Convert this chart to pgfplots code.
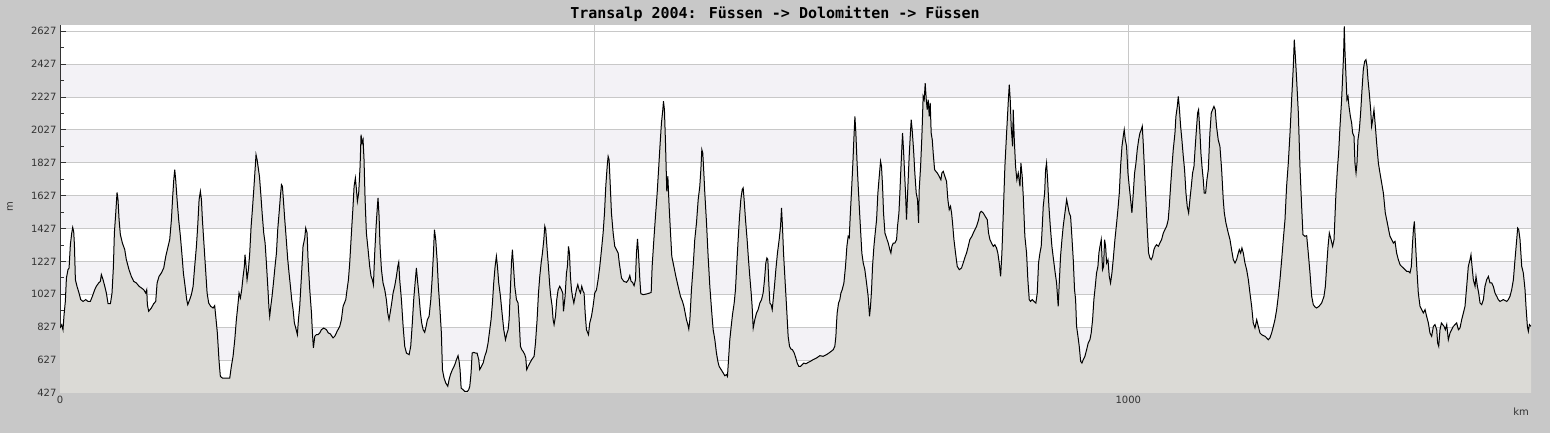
\documentclass[border=0pt]{standalone}
\usepackage{fontspec}
\setmainfont{DejaVu Sans}
\newfontfamily\monofont{DejaVu Sans Mono}
\usepackage{pgfplots}
\usepackage{pgfplotstable}
\pgfplotsset{compat=1.18}

\definecolor{pagebg}{HTML}{C8C8C8}
\definecolor{bandcol}{HTML}{F3F2F6}
\definecolor{fillcol}{HTML}{DBDAD6}
\definecolor{gridcol}{HTML}{C8C8C8}
\definecolor{axiscol}{HTML}{333333}

% grid under the profile, ticks and axis lines above it
\pgfplotsset{
  layers/profile/.define layer set={axis background,axis grid,main,axis ticks,axis lines,axis tick labels,axis descriptions,axis foreground}{},
}

% distance (km) and altitude (m)
\pgfplotstableread{
km elev
0 822
1.6 842
2.8 812
3.8 903
5.0 984
6.0 1126
7.5 1177
8.5 1187
9.7 1329
11.0 1400
11.9 1434
12.8 1410
13.5 1329
14.4 1116
15.9 1076
17.8 1035
19.4 995
21.6 984
24.1 995
26.2 984
28.4 984
30.3 1015
32.5 1055
34.0 1076
36.2 1096
37.8 1106
38.7 1147
40.3 1116
41.9 1076
43.4 1035
45.0 970
47.2 970
48.7 1035
50.0 1197
50.9 1400
52.2 1522
53.4 1647
54.3 1603
55.3 1481
56.5 1390
58.4 1339
60.6 1299
62.1 1238
64.6 1177
66.8 1136
69.0 1106
71.5 1096
74.0 1076
76.2 1066
78.4 1055
80.2 1035
81.2 1055
81.8 964
83.0 924
85.5 944
87.7 970
89.6 984
90.9 1096
92.7 1136
94.9 1157
97.1 1187
99.0 1258
101.2 1319
102.7 1360
104.3 1481
105.5 1623
106.5 1724
107.4 1785
108.3 1724
109.6 1603
111.1 1481
112.7 1380
114.3 1258
115.5 1157
117.1 1076
118.6 995
119.6 964
121.4 995
123.0 1025
124.6 1076
126.1 1197
127.7 1319
128.9 1441
130.2 1603
131.4 1653
132.4 1603
133.3 1481
134.5 1360
136.1 1197
137.7 1035
139.2 974
141.1 954
143.3 944
144.8 958
145.8 893
147.3 792
148.9 620
150.1 528
152.0 518
155.8 518
158.9 518
160.4 589
162.0 650
163.6 751
165.1 873
166.4 954
167.6 1035
168.9 1005
170.1 1055
171.4 1136
172.6 1197
173.2 1268
174.2 1197
175.1 1116
176.4 1177
177.6 1278
178.9 1441
180.1 1542
181.4 1664
182.6 1785
183.5 1876
184.5 1846
185.4 1805
186.7 1745
187.9 1643
189.2 1522
190.7 1400
192.0 1339
193.2 1218
194.5 1076
195.7 934
196.3 893
197.3 954
198.5 1015
199.8 1096
201.3 1197
202.6 1278
203.8 1420
205.1 1522
206.3 1623
207.3 1694
208.2 1684
209.1 1603
210.4 1481
211.6 1380
213.2 1238
214.4 1157
215.7 1076
216.9 995
218.2 934
219.4 853
220.7 822
222.2 782
223.2 873
224.4 954
226.0 1136
227.5 1319
229.1 1370
230.0 1430
231.3 1400
232.2 1238
233.8 1055
235.4 914
236.3 792
237.2 701
238.5 772
240.0 782
241.6 782
243.1 792
244.7 812
246.9 822
249.4 812
251.2 792
253.1 786
255.6 762
257.2 772
259.4 802
261.9 833
263.4 873
265.0 954
267.5 995
268.7 1055
270.0 1116
271.2 1218
272.8 1400
274.3 1562
275.3 1684
276.5 1734
277.5 1664
278.4 1593
279.6 1643
280.9 1805
281.8 1998
282.8 1947
283.7 1968
284.6 1846
285.6 1603
286.8 1400
288.4 1299
289.9 1197
291.2 1136
292.4 1116
293.4 1086
294.6 1278
295.9 1441
297.1 1562
297.7 1613
298.7 1501
299.6 1319
300.9 1177
302.4 1096
304.0 1055
305.5 995
306.8 914
308.0 873
309.3 924
310.5 974
311.8 1035
313.3 1076
314.9 1136
316.2 1197
317.1 1222
318.0 1116
319.6 995
321.2 832
322.7 711
324.3 670
326.8 660
328.3 711
329.6 832
331.1 995
332.4 1096
333.6 1187
334.9 1096
336.1 1015
337.4 914
338.6 853
339.9 812
341.4 796
342.7 832
343.9 873
345.5 893
347.1 995
348.3 1116
349.6 1278
350.5 1420
351.7 1360
353.0 1238
354.2 1076
355.5 954
357.0 792
358.0 569
359.5 518
361.1 488
363.0 468
364.2 508
365.5 539
367.3 569
368.9 589
370.1 609
371.1 630
372.6 654
373.6 620
374.5 569
375.5 457
377.3 447
378.9 437
381.4 437
382.6 447
383.6 468
384.8 549
385.8 670
387.3 674
388.9 670
390.4 670
392.0 630
392.9 569
394.5 589
396.1 609
397.6 650
399.2 680
400.7 731
402.3 812
403.5 873
404.8 974
406.0 1096
407.3 1197
408.5 1258
409.5 1197
410.7 1096
412.3 1015
413.8 914
415.4 812
417.0 751
418.5 792
419.5 812
420.4 873
421.6 1055
422.6 1218
423.5 1299
424.5 1197
425.7 1076
427.3 995
428.8 974
429.8 873
431.0 711
432.3 690
433.5 680
435.1 660
436.0 640
436.9 569
438.2 589
439.8 609
441.6 630
443.8 650
445.1 731
446.6 873
447.9 1035
449.1 1136
450.4 1218
451.6 1278
452.9 1360
453.8 1441
454.7 1420
456.0 1299
457.2 1197
458.5 1076
459.4 1015
460.7 954
461.6 873
462.5 843
463.8 893
465.0 995
466.3 1055
467.8 1076
469.4 1055
470.6 1035
471.3 924
472.8 1015
474.1 1157
475.0 1197
476.0 1319
476.9 1278
477.8 1136
478.8 1055
479.7 1015
481.0 974
482.2 1015
483.4 1055
484.7 1086
485.9 1055
487.2 1035
488.4 1076
489.7 1045
490.6 1035
491.6 914
492.8 812
494.7 782
495.9 853
497.5 893
499.0 954
500.6 1035
502.2 1055
503.7 1116
505.3 1197
506.9 1299
508.4 1400
509.7 1522
510.9 1684
512.2 1805
513.1 1866
514.0 1846
515.0 1704
516.2 1522
517.8 1400
519.3 1319
520.9 1299
522.5 1278
523.5 1220
525.6 1126
527.8 1106
530.3 1100
532.1 1116
533.4 1141
534.6 1106
535.9 1100
537.4 1080
538.7 1116
539.6 1278
540.6 1364
541.5 1278
542.8 1116
543.7 1031
545.9 1025
549.0 1029
552.1 1035
553.4 1039
554.3 1197
555.9 1360
557.4 1501
559.0 1643
560.5 1805
561.8 1947
563.0 2069
564.3 2150
564.9 2201
565.8 2150
566.8 1947
568.0 1653
569.0 1745
570.2 1562
571.5 1400
572.7 1258
574.6 1197
576.5 1136
578.6 1076
580.8 1015
582.7 984
584.0 954
585.2 914
586.4 873
587.7 843
588.6 816
589.6 873
591.1 1055
592.7 1197
594.2 1360
595.8 1461
597.4 1603
598.9 1684
599.9 1785
600.8 1907
601.7 1886
602.7 1765
603.6 1643
605.2 1461
606.7 1258
608.3 1076
609.9 934
611.4 812
613.0 751
614.5 670
615.8 620
617.0 589
618.9 569
620.8 549
622.3 532
623.9 539
624.8 528
625.8 630
627.0 751
628.3 832
629.5 903
631.1 974
632.3 1055
633.6 1218
634.8 1360
636.1 1501
637.3 1603
638.6 1664
639.5 1674
640.4 1603
641.7 1481
643.2 1360
644.5 1238
645.7 1136
647.0 1035
647.9 954
648.9 822
650.4 873
652.0 914
653.5 934
655.1 974
656.7 995
658.2 1035
659.5 1116
660.7 1218
661.7 1248
662.6 1238
663.5 1096
664.5 974
665.7 964
666.7 934
667.6 995
668.8 1076
670.1 1177
671.6 1278
673.2 1360
674.5 1441
675.4 1552
676.3 1441
677.3 1278
678.5 1136
680.1 954
681.6 772
682.9 711
684.1 695
685.7 690
687.3 670
688.8 640
690.1 609
691.6 589
693.2 589
694.7 599
696.3 609
698.2 605
700.4 613
702.5 620
705.0 630
708.2 640
711.3 654
714.4 650
717.5 660
720.6 674
723.8 690
725.3 711
726.3 772
726.9 853
727.5 914
728.8 974
730.0 995
731.0 1035
732.2 1055
733.8 1096
735.3 1197
736.6 1319
737.8 1380
738.8 1370
739.7 1501
741.0 1664
742.2 1826
743.1 1967
744.1 2109
745.0 2008
746.0 1846
747.2 1684
748.7 1501
750.6 1278
751.9 1218
753.4 1177
755.0 1096
756.5 1015
757.8 893
758.7 954
759.7 1055
760.6 1197
761.9 1319
763.1 1400
764.4 1481
765.6 1643
766.9 1745
768.1 1836
769.0 1805
770.0 1684
770.9 1522
772.2 1400
773.7 1370
775.3 1339
776.8 1299
777.8 1278
778.7 1319
780.0 1339
781.5 1339
783.1 1360
784.0 1441
785.3 1522
786.2 1643
787.1 1785
788.1 1927
788.7 2008
789.6 1907
790.6 1765
791.5 1643
792.4 1481
793.7 1684
794.9 1866
795.9 1988
796.8 2089
797.7 2028
799.0 1907
800.2 1765
801.5 1643
802.7 1603
803.7 1461
804.3 1664
805.6 1805
806.8 1988
808.0 2231
809.0 2211
809.9 2312
810.9 2211
811.8 2150
812.7 2211
813.7 2109
814.6 2191
815.5 2008
816.5 1967
817.4 1886
818.7 1785
819.9 1775
821.2 1765
823.0 1745
824.6 1724
825.5 1765
826.8 1775
828.3 1745
829.9 1714
831.1 1603
832.4 1542
833.6 1562
834.6 1522
835.5 1461
836.8 1360
838.3 1278
839.9 1197
841.8 1177
843.9 1187
845.5 1218
847.4 1258
848.6 1278
850.2 1319
851.7 1360
853.6 1380
854.9 1400
856.4 1420
858.0 1441
859.9 1481
861.1 1522
862.4 1532
864.2 1522
866.1 1501
868.0 1481
869.2 1400
870.5 1360
872.0 1339
873.6 1319
875.1 1329
876.7 1309
877.9 1278
879.2 1218
880.5 1136
881.7 1278
882.9 1501
884.5 1805
886.1 2008
887.6 2191
888.6 2302
889.5 2211
890.4 2049
891.7 1927
892.3 2150
893.3 1967
894.5 1805
895.7 1724
897.0 1765
898.6 1684
899.5 1826
900.7 1745
901.7 1623
903.2 1380
904.8 1278
906.0 1116
907.3 995
908.5 984
910.1 995
911.7 984
913.5 974
914.8 1035
916.0 1218
917.3 1278
918.5 1319
919.5 1441
920.4 1562
921.7 1643
922.6 1785
923.5 1826
924.5 1724
925.7 1562
927.0 1441
928.5 1319
930.4 1218
931.6 1157
932.9 1096
934.4 954
935.4 1096
936.6 1258
937.9 1360
939.1 1441
940.7 1522
942.3 1603
943.5 1562
944.7 1522
946.0 1501
947.2 1380
948.5 1238
949.7 1055
950.7 995
951.6 832
952.9 772
954.1 711
955.4 620
956.6 609
957.9 630
959.4 650
961.0 690
962.5 731
964.1 751
965.3 792
966.6 873
967.8 995
969.1 1076
970.3 1157
971.6 1197
972.5 1278
973.5 1319
974.7 1360
975.9 1177
976.9 1197
977.8 1360
978.8 1319
979.7 1218
981.0 1238
982.2 1136
983.4 1096
984.7 1157
985.9 1238
987.5 1360
989.1 1461
990.3 1542
991.6 1643
992.8 1805
994.1 1927
995.3 1988
996.2 2028
997.2 1967
998.4 1927
999.7 1765
1000.9 1684
1002.2 1603
1003.4 1522
1004.7 1643
1005.9 1765
1007.2 1826
1008.4 1907
1009.7 1967
1010.9 2008
1012.2 2028
1013.1 2049
1014.0 1947
1015.3 1765
1016.5 1603
1017.8 1420
1019.0 1278
1020.3 1248
1021.5 1238
1022.8 1258
1024.0 1299
1025.3 1319
1026.5 1329
1028.1 1319
1029.6 1339
1031.2 1360
1032.8 1400
1034.3 1420
1035.9 1441
1037.4 1481
1038.4 1562
1039.6 1684
1040.9 1805
1042.1 1907
1043.7 2008
1044.6 2109
1045.9 2170
1046.8 2231
1047.7 2170
1049.0 2049
1050.2 1967
1051.5 1866
1052.7 1785
1054.0 1643
1055.2 1562
1056.5 1522
1057.7 1603
1059.0 1684
1060.2 1765
1061.5 1805
1062.7 1927
1064.0 2049
1064.9 2130
1065.8 2150
1067.1 2008
1068.0 1886
1069.0 1805
1070.2 1724
1071.1 1643
1072.4 1643
1073.6 1724
1074.9 1785
1076.4 2008
1077.7 2130
1078.9 2150
1080.2 2170
1081.4 2150
1082.6 2049
1084.2 1967
1085.8 1927
1087.4 1785
1088.9 1603
1089.9 1522
1091.4 1461
1093.6 1400
1095.2 1360
1096.7 1299
1098.3 1238
1099.9 1218
1101.4 1238
1103.0 1278
1103.9 1299
1105.2 1278
1106.4 1309
1107.7 1278
1109.2 1218
1110.8 1177
1112.4 1116
1113.9 1035
1115.5 954
1117.0 853
1118.6 822
1120.2 873
1121.7 832
1123.3 792
1124.8 782
1126.4 776
1128.0 772
1129.5 762
1131.1 751
1132.6 762
1134.2 792
1135.8 832
1137.3 873
1138.9 934
1140.4 1015
1142.0 1116
1143.6 1238
1145.1 1360
1146.7 1481
1148.2 1684
1149.8 1826
1151.4 2008
1152.9 2211
1154.5 2414
1155.4 2576
1156.4 2474
1157.6 2333
1159.2 2130
1160.7 1805
1162.3 1562
1163.5 1390
1165.4 1380
1167.0 1384
1168.5 1278
1170.1 1157
1171.7 1015
1173.2 964
1174.8 950
1176.3 944
1178.5 954
1181.0 974
1183.2 1015
1184.5 1076
1185.7 1197
1187.0 1319
1188.2 1400
1189.8 1360
1191.3 1319
1192.6 1360
1193.5 1501
1194.4 1643
1195.7 1785
1196.9 1886
1198.2 2049
1199.7 2211
1200.7 2353
1201.6 2495
1202.2 2657
1202.9 2495
1203.8 2353
1204.7 2211
1205.7 2231
1206.6 2170
1207.9 2109
1209.1 2069
1210.0 2008
1211.3 1988
1212.2 1826
1213.2 1765
1214.1 1826
1215.0 1967
1216.3 2028
1217.5 2130
1218.8 2272
1220.0 2393
1221.3 2444
1222.5 2454
1223.5 2414
1224.4 2333
1225.6 2251
1226.9 2150
1227.8 2049
1228.8 2089
1230.0 2150
1231.3 2049
1232.5 1947
1234.1 1826
1235.6 1765
1237.2 1704
1238.8 1643
1240.6 1522
1242.5 1461
1243.7 1420
1245.0 1380
1246.6 1360
1248.1 1339
1249.7 1349
1251.2 1278
1252.8 1238
1254.4 1207
1255.9 1197
1257.5 1187
1259.0 1177
1260.6 1167
1262.2 1167
1263.7 1157
1265.0 1197
1265.9 1319
1266.9 1420
1267.8 1471
1268.7 1360
1270.0 1197
1271.5 1035
1273.1 954
1274.6 934
1276.2 914
1277.8 934
1279.3 893
1280.9 853
1282.4 792
1284.0 772
1285.6 832
1287.1 843
1288.7 812
1289.6 731
1290.6 711
1291.8 812
1293.1 853
1294.3 843
1295.6 832
1296.8 812
1298.1 843
1299.6 751
1301.2 792
1302.7 812
1304.3 832
1305.9 843
1307.4 853
1309.0 812
1310.5 822
1312.1 873
1313.7 914
1315.2 954
1316.8 1076
1318.3 1197
1319.9 1238
1320.8 1268
1321.8 1197
1323.0 1116
1324.6 1076
1325.5 1136
1326.8 1076
1328.0 1035
1329.3 974
1330.8 964
1332.4 995
1333.9 1076
1335.5 1116
1337.1 1136
1338.6 1096
1340.2 1096
1341.7 1076
1343.3 1035
1344.9 1015
1346.4 995
1348.0 984
1351.1 995
1354.2 984
1355.8 995
1357.3 1015
1358.9 1055
1360.5 1116
1362.0 1238
1363.6 1360
1364.5 1430
1365.5 1420
1366.7 1360
1368.3 1197
1369.8 1157
1371.4 1055
1372.3 954
1373.6 832
1374.5 802
1375.5 843
1377.0 832
}\profile

\begin{document}
\pagecolor{pagebg}%
\begin{tikzpicture}[x=1pt,y=1pt]
\node[font=\monofont\bfseries\fontsize{15}{18}\selectfont, text=black] at (775,419)
  {Transalp 2004: Füssen -> Dolomitten -> Füssen};
\node[font=\fontsize{10}{12}\selectfont, text=axiscol, rotate=90] at (10,226) {m};
\node[font=\fontsize{10}{12}\selectfont, text=axiscol] at (1521,21) {km};
\begin{axis}[
  set layers=profile,
  at={(60pt,40pt)}, anchor=south west,
  scale only axis, width=1471pt, height=368pt,
  xmin=0, xmax=1377, ymin=427, ymax=2665,
  axis x line*=bottom, axis y line*=left,
  axis line style={axiscol, line width=1pt, -},
  ytick={427,627,...,2627}, minor y tick num=1,
  xtick={0,500,1000}, xticklabels={0,,1000},
  minor xtick={100,200,300,400,600,700,800,900,1100,1200,1300},
  tick align=inside,
  major tick length=5.5pt, minor tick length=3.5pt,
  tick style={axiscol, line width=1pt},
  xmajorgrids, ymajorgrids,
  grid style={gridcol, line width=1pt},
  tick label style={font=\fontsize{10}{12}\selectfont, text=axiscol},
  /pgf/number format/1000 sep={},
  /pgf/number format/assume math mode=true,
]
\begin{pgfonlayer}{axis background}
  \fill[white] (axis cs:0,427) rectangle (axis cs:1377,2665);
  \fill[bandcol] (axis cs:0,627) rectangle (axis cs:1377,827);
  \fill[bandcol] (axis cs:0,1027) rectangle (axis cs:1377,1227);
  \fill[bandcol] (axis cs:0,1427) rectangle (axis cs:1377,1627);
  \fill[bandcol] (axis cs:0,1827) rectangle (axis cs:1377,2027);
  \fill[bandcol] (axis cs:0,2227) rectangle (axis cs:1377,2427);
\end{pgfonlayer}
\addplot[draw=none, fill=fillcol] table[x=km, y=elev] {\profile} \closedcycle;
\addplot[black, line width=1pt] table[x=km, y=elev] {\profile};
\end{axis}
% page is exactly 1550 x 433
\pgfresetboundingbox
\path[use as bounding box] (0,0) rectangle (1550,433);
\end{tikzpicture}%
\end{document}
